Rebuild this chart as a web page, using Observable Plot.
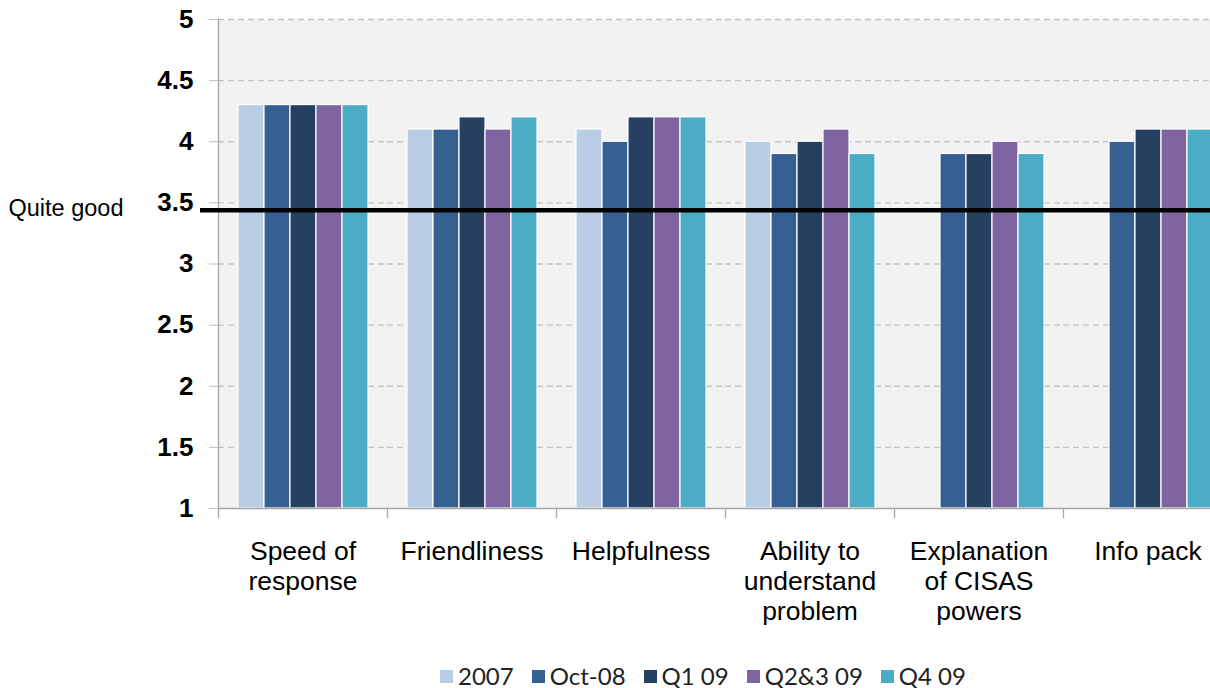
<!DOCTYPE html>
<html>
<head>
<meta charset="utf-8">
<script src="https://cdn.jsdelivr.net/npm/d3@7"></script>
<script src="https://cdn.jsdelivr.net/npm/@observablehq/plot@0.6"></script>
<style>
  html, body { margin: 0; padding: 0; background: #fff; overflow: hidden; width: 1210px; height: 688px; }
  #chart { position: absolute; left: 0; top: 0; width: 1240px; }
  #chart svg { max-width: none !important; }
  #legend { position: absolute; left: 440px; top: 666px; display: flex; align-items: center; height: 20px;
            font-family: Lato, "Open Sans", sans-serif; font-size: 24px; line-height: 20px; color: #222; white-space: nowrap; }
  #legend .item { display: flex; align-items: center; margin-right: 18px; }
  #legend .sw { width: 13px; height: 13px; margin-right: 5px; }
</style>
</head>
<body>
<div id="chart"></div>
<div id="legend"></div>
<script>
// ---- data ----
const categories = ["Speed of response", "Friendliness", "Helpfulness", "Ability to understand problem", "Explanation of CISAS powers", "Info pack"];
const categoryLabels = ["Speed of\nresponse", "Friendliness", "Helpfulness", "Ability to\nunderstand\nproblem", "Explanation\nof CISAS\npowers", "Info pack"];
const series = ["2007", "Oct-08", "Q1 09", "Q2&3 09", "Q4 09"];
const seriesColors = ["#b9cde5", "#376092", "#254061", "#8064a2", "#4bacc6"];
const values2007   = [4.3, 4.1, 4.1, 4.0, null, null];
const valuesOct08  = [4.3, 4.1, 4.0, 3.9, 3.9, 4.0];
const valuesQ109   = [4.3, 4.2, 4.2, 4.0, 3.9, 4.1];
const valuesQ2309  = [4.3, 4.1, 4.2, 4.1, 4.0, 4.1];
const valuesQ409   = [4.3, 4.2, 4.2, 3.9, 3.9, 4.1];
const yTicks = [1, 1.5, 2, 2.5, 3, 3.5, 4, 4.5, 5];
const thresholdValue = 3.44;
const thresholdLabel = "Quite good";

// ---- table ----
const seriesValues = [values2007, valuesOct08, valuesQ109, valuesQ2309, valuesQ409];
const rows = [];
categories.forEach((c, ci) => series.forEach((s, si) => {
  const v = seriesValues[si][ci];
  if (v != null) rows.push({category: c, series: s, value: v});
}));
const labelOf = new Map(categories.map((c, i) => [c, categoryLabels[i]]));

const W = 1240, H = 650, ML = 218, MR = 8, MT = 19, MB = 142;
const facetStep = (W - ML - MR) / categories.length;
const font = "'Liberation Sans', Arial, sans-serif";
const yMin = yTicks[0];

const chart = Plot.plot({
  width: W, height: H,
  marginLeft: ML, marginRight: MR, marginTop: MT, marginBottom: MB,
  style: {fontFamily: font, background: "transparent", overflow: "visible", maxWidth: "none"},
  fx: {domain: categories, padding: 0, axis: null},
  x: {domain: series, paddingInner: 0, paddingOuter: 0.75, axis: null},
  y: {domain: [yTicks[0], yTicks[yTicks.length - 1]], axis: null},
  color: {domain: series, range: seriesColors},
  marks: [
    Plot.frame({fill: "#f2f2f2", stroke: null}),
    Plot.gridY(yTicks.slice(1), {stroke: "#c4c4c4", strokeOpacity: 1, strokeWidth: 1.3, strokeDasharray: "6,4"}),
    Plot.barY(rows, {fx: "category", x: "series", y1: () => yMin, y2: "value", fill: "series", stroke: "white", strokeWidth: 1.2, inset: 0}),
    Plot.ruleY([yMin], {stroke: "#a6a6a6", strokeWidth: 1.3}),
    Plot.frame({anchor: "left", facetAnchor: "left", stroke: "#a6a6a6", strokeWidth: 1.3}),
    Plot.ruleY([thresholdValue], {facetAnchor: "left", stroke: "black", strokeWidth: 4.5, insetLeft: -18, insetRight: -(categories.length - 1) * facetStep}),
    Plot.text([thresholdLabel], {facetAnchor: "left", text: d => d, y: () => thresholdValue, frameAnchor: "left", dx: -210, dy: -2, textAnchor: "start", fontSize: 23.5, fill: "black"}),
    Plot.axisY({ticks: yTicks, tickFormat: d => String(d), tickSize: 9, tickPadding: 16, fontSize: 26, fontWeight: "bold", stroke: "#bdbdbd", fill: "black", label: null}),
    Plot.axisFx({anchor: "bottom", tickSize: 0, tickPadding: 30, fontSize: 26.5, lineHeight: 1.13, tickFormat: d => labelOf.get(d), fill: "black", label: null}),
    Plot.axisFx({anchor: "bottom", tickSize: 10, tickFormat: () => "", dx: -facetStep / 2, stroke: "#a6a6a6", strokeWidth: 1.3, label: null})
  ]
});
document.getElementById("chart").appendChild(chart);

// legend
const legend = document.getElementById("legend");
series.forEach((s, i) => {
  const item = document.createElement("div");
  item.className = "item";
  const sw = document.createElement("div");
  sw.className = "sw";
  sw.style.background = seriesColors[i];
  const t = document.createElement("span");
  t.textContent = s;
  item.appendChild(sw); item.appendChild(t);
  legend.appendChild(item);
});
</script>
</body>
</html>
